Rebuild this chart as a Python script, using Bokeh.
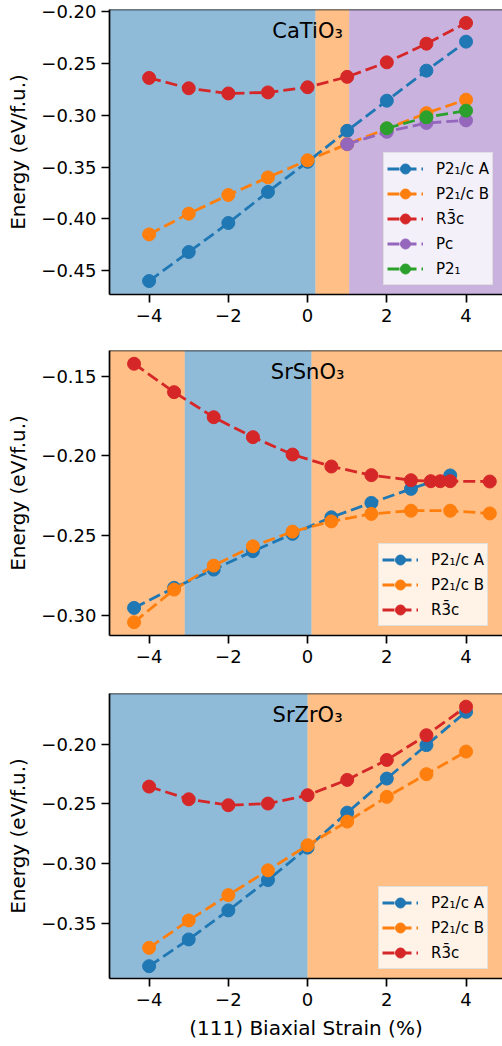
from bokeh.plotting import figure
from bokeh.layouts import column
from bokeh.models import (BoxAnnotation, Span, Label, FixedTicker, CustomJSTickFormatter,
                          Legend, LegendItem, Range1d)
from bokeh.embed import file_html
from bokeh.resources import INLINE

FONT = "DejaVu Sans"
BLUE = "#1f77b4"
ORANGE = "#ff7f0e"
RED = "#d62728"
PURPLE = "#9467bd"
GREEN = "#2ca02c"

# ---------------- data ----------------
x_ticks = [-4, -2, 0, 2, 4]
y_label = "Energy (eV/f.u.)"
x_label = "(111) Biaxial Strain (%)"

# CaTiO3
cto_name = "CaTiO\u2083"
cto_strain = [-4, -3, -2, -1, 0, 1, 2, 3, 4]
cto_p21c_a = [-0.460, -0.432, -0.404, -0.374, -0.345, -0.315, -0.286, -0.257, -0.229]
cto_p21c_b = [-0.415, -0.395, -0.377, -0.360, -0.3435, -0.328, -0.313, -0.298, -0.285]
cto_r3c = [-0.264, -0.274, -0.279, -0.278, -0.273, -0.263, -0.249, -0.231, -0.211]
cto_pc_strain = [1, 2, 3, 4]
cto_pc = [-0.328, -0.316, -0.3075, -0.305]
cto_p21_strain = [2, 3, 4]
cto_p21 = [-0.3126, -0.302, -0.2956]
cto_bounds = [-5, 0.2, 1.05, 5]
cto_phase_colors = [BLUE, ORANGE, PURPLE]
cto_yticks = [-0.45, -0.40, -0.35, -0.30, -0.25, -0.20]

# SrSnO3
sso_name = "SrSnO\u2083"
sso_strain_r = [-4.38, -3.37, -2.37, -1.38, -0.38, 0.60, 1.61, 2.61, 3.11, 3.35, 3.60, 4.60]
sso_r3c = [-0.1422, -0.1600, -0.1757, -0.1882, -0.1991, -0.2066, -0.2120, -0.2152,
           -0.2158, -0.2158, -0.2158, -0.2160]
sso_strain_a = [-4.38, -3.37, -2.37, -1.38, -0.38, 0.60, 1.61, 2.61, 3.60]
sso_p21c_a = [-0.2952, -0.2826, -0.2712, -0.2597, -0.2488, -0.2384, -0.2294, -0.2206, -0.2122]
sso_strain_b = [-4.38, -3.37, -2.37, -1.38, -0.38, 0.60, 1.61, 2.61, 3.60, 4.60]
sso_p21c_b = [-0.3042, -0.2837, -0.2687, -0.2566, -0.2474, -0.2410, -0.2363, -0.2343,
              -0.2343, -0.2360]
sso_bounds = [-5, -3.1, 0.1, 5]
sso_phase_colors = [ORANGE, BLUE, ORANGE]
sso_yticks = [-0.30, -0.25, -0.20, -0.15]

# SrZrO3
szo_name = "SrZrO\u2083"
szo_strain = [-4, -3, -2, -1, 0, 1, 2, 3, 4]
szo_p21c_a = [-0.3858, -0.3634, -0.3391, -0.3137, -0.2866, -0.2573, -0.2288, -0.2008, -0.1729]
szo_p21c_b = [-0.3704, -0.3475, -0.3263, -0.3056, -0.2846, -0.2648, -0.2441, -0.2251, -0.2062]
szo_r3c = [-0.2355, -0.2461, -0.2511, -0.2497, -0.2427, -0.2299, -0.2132, -0.1925, -0.1686]
szo_bounds = [-5, 0, 5]
szo_phase_colors = [BLUE, ORANGE]
szo_yticks = [-0.35, -0.30, -0.25, -0.20]

LBL_A = "P2\u2081/c A"
LBL_B = "P2\u2081/c B"
LBL_R = "R3\u0304c"
LBL_PC = "Pc"
LBL_P21 = "P2\u2081"

XFMT = "return (tick < 0 ? '\\u2212' : '') + Math.abs(tick).toFixed(0);"
YFMT = "return (tick < 0 ? '\\u2212' : '') + Math.abs(tick).toFixed(2);"


def make_panel(name, series, bounds, phase_colors, yrange, yticks, height,
               top, bottom, legend_loc, show_xlabel):
    p = figure(width=502, height=height, x_range=Range1d(-5, 4.92),
               y_range=Range1d(*yrange), output_backend="svg", toolbar_location=None,
               title=None, min_border_left=109, min_border_right=0,
               min_border_top=top, min_border_bottom=bottom)
    p.outline_line_color = None
    p.grid.visible = False
    p.background_fill_color = "white"
    p.border_fill_color = "white"

    for i, c in enumerate(phase_colors):
        p.add_layout(BoxAnnotation(left=bounds[i], right=bounds[i + 1], fill_color=c,
                                   fill_alpha=0.5, line_color=None, level="underlay"))

    items = []
    for xs, ys, color, label in series:
        lr = p.line(xs, ys, line_color=color, line_width=2.8, line_dash="12 5")
        sr = p.scatter(xs, ys, size=13, fill_color=color, line_color=color)
        items.append(LegendItem(label=label, renderers=[lr, sr]))

    p.add_layout(Span(location=yrange[1], dimension="width", line_color="black",
                      line_width=1.7))

    frac = 0.075
    p.add_layout(Label(x=0, y=yrange[1] - frac * (yrange[1] - yrange[0]), text=name,
                       text_align="center", text_baseline="middle",
                       text_font=FONT, text_font_size="21px", text_color="black"))

    leg = Legend(items=items, location=legend_loc, margin=0, padding=3,
                 glyph_width=36, glyph_height=25, label_height=20, label_standoff=13,
                 spacing=0, label_text_font=FONT, label_text_font_size="15px",
                 label_text_color="black", background_fill_color="white",
                 background_fill_alpha=0.8, border_line_color="#cccccc",
                 border_line_width=1)
    p.add_layout(leg)

    for ax in (p.xaxis[0], p.yaxis[0]):
        ax.axis_line_color = "black"
        ax.axis_line_width = 1.7
        ax.major_tick_line_color = "black"
        ax.major_tick_line_width = 1.7
        ax.major_tick_out = 8
        ax.major_tick_in = 0
        ax.minor_tick_line_color = None
        ax.major_label_text_font = FONT
        ax.major_label_text_font_size = "18px"
        ax.major_label_text_color = "black"
        ax.axis_label_text_font = FONT
        ax.axis_label_text_font_size = "20px"
        ax.axis_label_text_font_style = "normal"
        ax.axis_label_text_color = "black"

    p.xaxis.ticker = FixedTicker(ticks=x_ticks)
    p.xaxis.formatter = CustomJSTickFormatter(code=XFMT)
    p.xaxis.major_label_standoff = 6
    p.yaxis.ticker = FixedTicker(ticks=yticks)
    p.yaxis.formatter = CustomJSTickFormatter(code=YFMT)
    p.yaxis.major_label_standoff = 5
    p.yaxis.axis_label = y_label
    p.yaxis.axis_label_standoff = 8
    if show_xlabel:
        p.xaxis.axis_label = x_label
        p.xaxis.axis_label_standoff = 7
    return p


p1 = make_panel(cto_name,
                [(cto_strain, cto_p21c_a, BLUE, LBL_A),
                 (cto_strain, cto_p21c_b, ORANGE, LBL_B),
                 (cto_strain, cto_r3c, RED, LBL_R),
                 (cto_pc_strain, cto_pc, PURPLE, LBL_PC),
                 (cto_p21_strain, cto_p21, GREEN, LBL_P21)],
                cto_bounds, cto_phase_colors, (-0.473, -0.198), cto_yticks,
                height=347, top=9, bottom=53, legend_loc=(274, 9), show_xlabel=False)

p2 = make_panel(sso_name,
                [(sso_strain_a, sso_p21c_a, BLUE, LBL_A),
                 (sso_strain_b, sso_p21c_b, ORANGE, LBL_B),
                 (sso_strain_r, sso_r3c, RED, LBL_R)],
                sso_bounds, sso_phase_colors, (-0.3125, -0.1339), sso_yticks,
                height=343, top=3, bottom=55, legend_loc=(269, 9), show_xlabel=False)

p3 = make_panel(szo_name,
                [(szo_strain, szo_p21c_a, BLUE, LBL_A),
                 (szo_strain, szo_p21c_b, ORANGE, LBL_B),
                 (szo_strain, szo_r3c, RED, LBL_R)],
                szo_bounds, szo_phase_colors, (-0.3961, -0.1576), szo_yticks,
                height=356, top=3, bottom=68, legend_loc=(269, 9), show_xlabel=True)

layout = column(p1, p2, p3, spacing=0)
open("out.html", "w", encoding="utf-8").write(file_html(layout, INLINE))
